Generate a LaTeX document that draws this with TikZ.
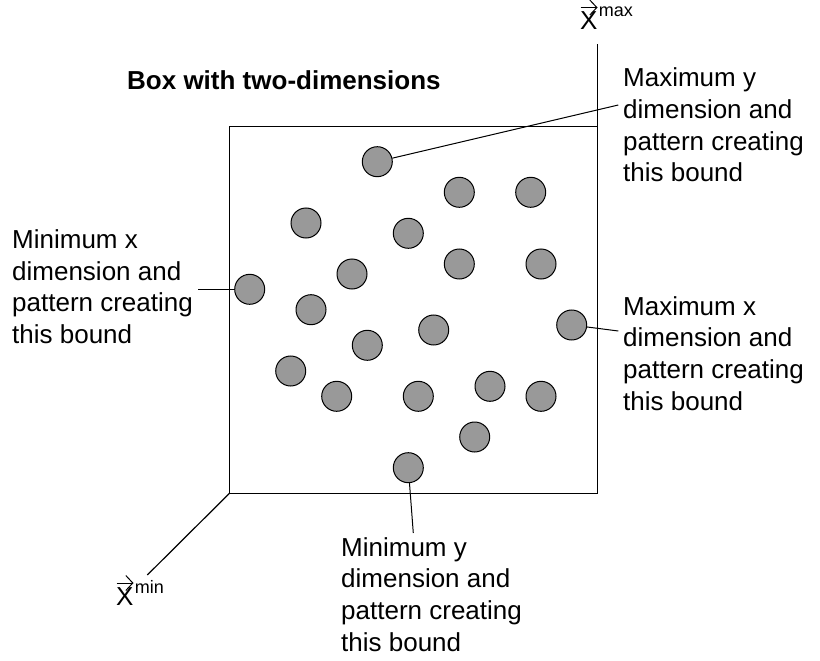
\documentclass[tikz,border=0pt]{standalone}
\usepackage{fontspec}
\setmainfont{Liberation Sans}
\usetikzlibrary{arrows.meta,calc}
\definecolor{dotgray}{RGB}{153,153,153}
\begin{document}
\begin{tikzpicture}[x=1pt,y=-1pt,
  dot/.style={circle,draw=black,line width=1pt,fill=dotgray,minimum size=30pt,inner sep=0pt},
  frame/.style={draw=black,line width=1.2pt},
  leader/.style={draw=black,line width=1pt},
  lbl/.style={align=left,anchor=north west,inner sep=0pt,font=\fontsize{26}{31.7}\selectfont},
  ttl/.style={anchor=base west,inner sep=0pt,font=\fontsize{26}{31}\selectfont\bfseries},
  bigx/.style={anchor=base west,inner sep=0pt,font=\fontsize{26}{31}\selectfont},
  supx/.style={anchor=base west,inner sep=0pt,font=\fontsize{18}{20}\selectfont},
  vecarrow/.style={line width=1pt,-{Straight Barb[length=7pt,width=15pt]}}
]
\useasboundingbox (0,0) rectangle (820,661);
% box and axes
\coordinate (bl) at (229.5,493.3);
\coordinate (tr) at (597.5,126.5);
\coordinate (top) at (597.5,44);
\coordinate (xminend) at (147.3,575);
\draw[frame] (bl) rectangle (tr);
\draw[frame] (tr) -- (top);
\draw[frame] (bl) -- (xminend);
% dots
\node[dot] (c1) at (377.3,161.7) {};
\node[dot] (c2) at (459.3,192.3) {};
\node[dot] (c3) at (530.7,192.3) {};
\node[dot] (c4) at (306,223) {};
\node[dot] (c5) at (408.3,233.3) {};
\node[dot] (c6) at (459.3,264) {};
\node[dot] (c7) at (541,264) {};
\node[dot] (c8) at (352,274) {};
\node[dot] (c9) at (249.7,289.3) {};
\node[dot] (c10) at (311,309.7) {};
\node[dot] (c11) at (571.7,325) {};
\node[dot] (c12) at (433.7,330) {};
\node[dot] (c13) at (367.3,345.3) {};
\node[dot] (c14) at (290.7,371) {};
\node[dot] (c15) at (336.7,396.3) {};
\node[dot] (c16) at (418.3,396.3) {};
\node[dot] (c17) at (490,386.3) {};
\node[dot] (c18) at (541,396.3) {};
\node[dot] (c19) at (474.7,437) {};
\node[dot] (c20) at (408.3,467.7) {};
% leader ends
\coordinate (ymaxend) at (618.3,105);
\coordinate (xminlead) at (198.3,289.3);
\coordinate (xmaxend) at (618.3,331);
\coordinate (yminend) at (413.3,533);
\draw[leader] (c1) -- (ymaxend);
\draw[leader] (c9) -- (xminlead);
\draw[leader] (c11) -- (xmaxend);
\draw[leader] (c20) -- (yminend);
% labels
\node[ttl] (title) at (127,90) {Box with two-dimensions};
\node[lbl] (lymax) at (623,67.7) {Maximum y\\dimension and\\pattern creating\\this bound};
\node[lbl] (lxmin) at (12,229.3) {Minimum x\\dimension and\\pattern creating\\this bound};
\node[lbl] (lxmax) at (623,296) {Maximum x\\dimension and\\pattern creating\\this bound};
\node[lbl] (lymin) at (341,537) {Minimum y\\dimension and\\pattern creating\\this bound};
% vector labels
\node[bigx] (xmaxX) at (580,30) {X};
\node[supx] (xmaxS) at ($(xmaxX.base east)+(1,-13)$) {max};
\draw[vecarrow] ($(xmaxX.base west)+(0.5,-22.5)$) -- ($(xmaxX.base west)+(17.5,-22.5)$);
\node[bigx] (xminX) at (116,605) {X};
\node[supx] (xminS) at ($(xminX.base east)+(1,-12)$) {min};
\draw[vecarrow] ($(xminX.base west)+(0.5,-22)$) -- ($(xminX.base west)+(17.5,-22)$);
\end{tikzpicture}
\end{document}
